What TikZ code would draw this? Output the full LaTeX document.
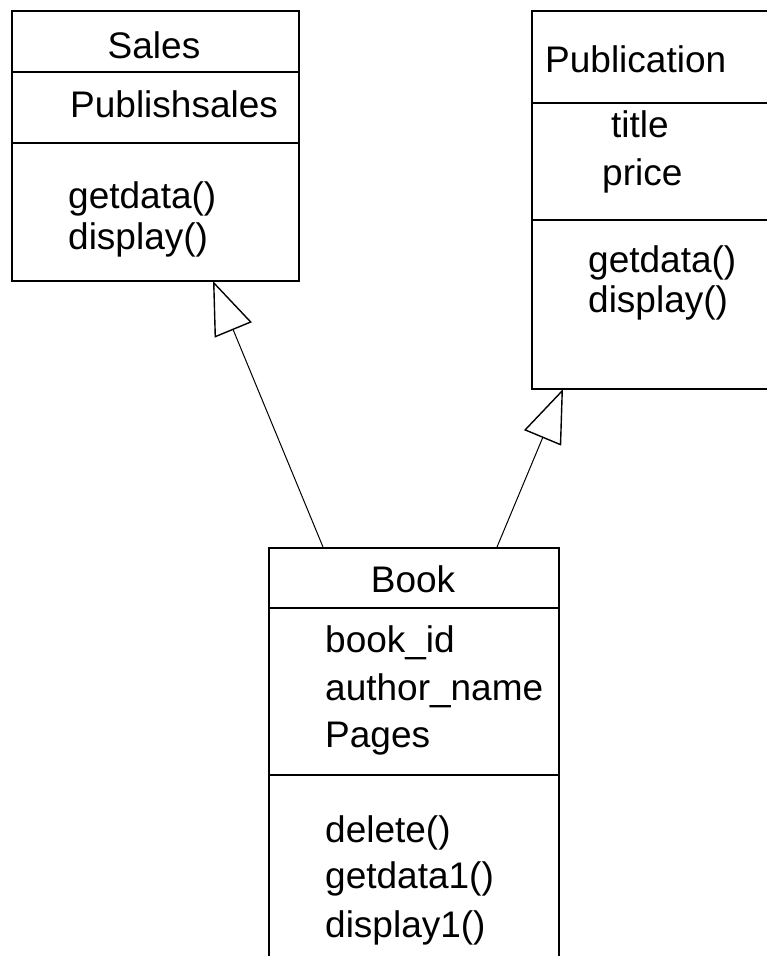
\documentclass[tikz,border=0pt]{standalone}
\usepackage{fontspec}
\setmainfont{Liberation Sans}
\usetikzlibrary{arrows.meta}

\tikzset{
  classbox/.style={draw, line width=1.5pt, rectangle, inner sep=0pt, anchor=north west},
  divider/.style={line width=1.5pt},
  member/.style={inner sep=0pt, anchor=base west, font=\fontsize{37}{44}\selectfont},
  title/.style={inner sep=0pt, anchor=base, font=\fontsize{37}{44}\selectfont},
  inherit/.style={line width=1pt, -{Triangle[open, length=53pt, width=40pt, line width=1.4pt]}}
}

\begin{document}
\begin{tikzpicture}[x=1pt, y=-1pt]
  \useasboundingbox (0,0) rectangle (767,956);
  \clip (0,0) rectangle (767,956);

  % Sales class
  \node[classbox, minimum width=287pt, minimum height=270pt] (sales) at (11,10) {};
  \draw[divider] (11,72) -- (298,72);
  \draw[divider] (11,143) -- (298,143);
  \node[title]  (salesname) at (154,58) {Sales};
  \node[member] (salesattr) at (70,117) {Publishsales};
  \node[member] (salesop1)  at (68,208) {getdata()};
  \node[member] (salesop2)  at (68,249) {display()};

  % Publication class (runs past the right edge)
  \node[classbox, minimum width=260pt, minimum height=378pt] (pub) at (531,10) {};
  \draw[divider] (531,103) -- (791,103);
  \draw[divider] (531,220) -- (791,220);
  \node[member] (pubname)  at (545,72)  {Publication};
  \node[member] (pubattr1) at (611,137) {title};
  \node[member] (pubattr2) at (602,185) {price};
  \node[member] (pubop1)   at (588,272) {getdata()};
  \node[member] (pubop2)   at (588,312) {display()};

  % Book class (runs past the bottom edge)
  \node[classbox, minimum width=290pt, minimum height=440pt] (book) at (268,547) {};
  \draw[divider] (268,608) -- (558,608);
  \draw[divider] (268,775) -- (558,775);
  \node[title]  (bookname)  at (413,592) {Book};
  \node[member] (bookattr1) at (325,652) {book\_id};
  \node[member] (bookattr2) at (325,700) {author\_name};
  \node[member] (bookattr3) at (325,747) {Pages};
  \node[member] (bookop1)   at (325,842) {delete()};
  \node[member] (bookop2)   at (325,888) {getdata1()};
  \node[member] (bookop3)   at (325,937) {display1()};

  % Generalisation connectors
  \coordinate (bookL) at (323,547);
  \coordinate (salesB) at (213,281);
  \coordinate (bookR) at (497,547);
  \coordinate (pubB) at (563,389);
  \draw[inherit] (bookL) -- (salesB);
  \draw[inherit] (bookR) -- (pubB);
\end{tikzpicture}
\end{document}
